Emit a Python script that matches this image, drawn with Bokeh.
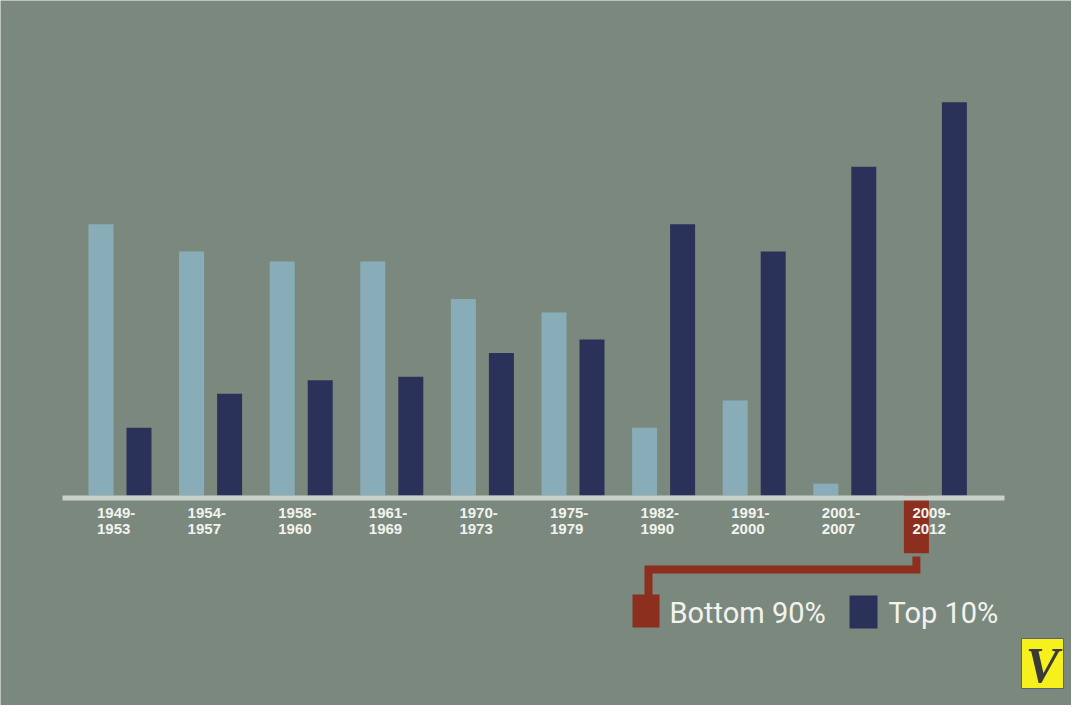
from bokeh.plotting import figure
from bokeh.models import ColumnDataSource, Range1d
from bokeh.core.properties import value
from bokeh.embed import file_html
from bokeh.resources import INLINE

# ---- data ----
periods_start = ["1949-", "1954-", "1958-", "1961-", "1970-", "1975-", "1982-", "1991-", "2001-", "2009-"]
periods_end = ["1953", "1957", "1960", "1969", "1973", "1979", "1990", "2000", "2007", "2012"]
bottom90 = [80, 72, 69, 69, 58, 54, 20, 28, 3.5, -17]
top10 = [20, 30, 34, 35, 42, 46, 80, 72, 97, 116]
legend_labels = ["Bottom 90%", "Top 10%"]

# ---- styling ----
BG = "#7b887e"
LIGHT = "#89adb8"
NAVY = "#2a3259"
RED = "#8c2f1f"
AXIS = "#c9d2ca"
TXT = "#f3f3ee"

W, H = 1071, 705
# pixel helpers for decoration placement (page coords)
GX0, GDX = 127.5, 90.6
Y0, PPU = 503.0, 3.39
def X(px):
    return (px - GX0) / GDX
def Y(py):
    return (Y0 - py) / PPU

p = figure(width=W, height=H, output_backend="svg", toolbar_location=None,
           x_range=Range1d(X(8), X(8 + W)), y_range=Range1d(Y(8 + H), Y(8)),
           x_axis_type=None, y_axis_type=None, min_border=0)
p.background_fill_color = BG
p.border_fill_color = BG
p.outline_line_color = None
p.grid.visible = False

n = len(periods_start)
idx = list(range(n))
off = 19 / GDX
bw = 25 / GDX
bcolors = [LIGHT if v >= 0 else RED for v in bottom90]

src = ColumnDataSource(dict(
    xb=[i - off for i in idx], xt=[i + off for i in idx],
    b=bottom90, t=top10, bc=bcolors,
    l1=periods_start, l2=periods_end,
    xl=[i - 23 / GDX for i in idx],
))

p.vbar(x="xb", top="b", bottom=0, width=bw, fill_color="bc", line_color=None, source=src)
p.vbar(x="xt", top="t", bottom=0, width=bw, fill_color=NAVY, line_color=None, source=src)

# baseline
p.quad(left=X(70), right=X(1012), top=0, bottom=-5 / PPU, fill_color=AXIS, line_color=None)

# category labels
for col, py in (("l1", 515), ("l2", 531)):
    p.text(x="xl", y=Y(py), text=col, source=src, text_color=TXT,
           text_font=value("Liberation Sans"), text_font_style="bold", text_font_size="15px",
           text_baseline="top", text_align="left")

# bracket from the negative bar to the legend swatch
neg_i = [i for i, v in enumerate(bottom90) if v < 0][0]
bx = neg_i - off
p.line(x=[bx, bx, X(656), X(656)], y=[Y(564), Y(577), Y(577), Y(603)],
       line_color=RED, line_width=8, line_join="miter", line_cap="butt")

# legend
p.quad(left=X(640), right=X(667), top=Y(602), bottom=Y(635), fill_color=RED, line_color=None)
p.quad(left=X(857), right=X(885), top=Y(603), bottom=Y(636), fill_color=NAVY, line_color=None)
p.text(x=[X(677), X(896)], y=[Y(620), Y(620)], text=legend_labels, text_color=TXT,
       text_font=value("Roboto"), text_font_size="29px",
       text_baseline="middle", text_align="left")

# logo
p.quad(left=X(1029), right=X(1071), top=Y(646), bottom=Y(696), fill_color="#f6f01c",
       line_color="#5d6070", line_width=1)
p.text(x=[X(1050)], y=[Y(672)], text=["V"], text_color="#3a3a36",
       text_font=value("Liberation Serif"), text_font_style="bold italic", text_font_size="50px",
       text_baseline="middle", text_align="center")

open("out.html", "w").write(file_html(p, INLINE))
